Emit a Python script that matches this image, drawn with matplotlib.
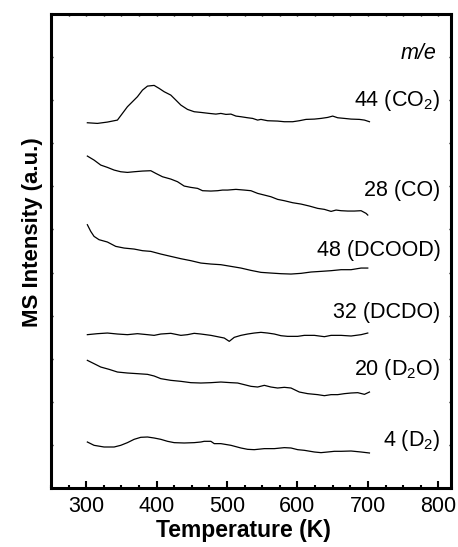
import matplotlib
matplotlib.use("Agg")
import matplotlib.pyplot as plt
from matplotlib.ticker import MultipleLocator, NullFormatter

plt.rcParams['font.family'] = ['Liberation Sans', 'DejaVu Sans']
plt.rcParams['mathtext.default'] = 'regular'

t_co2 = [301.6, 315.9, 330.1, 344.3, 351.4, 358.5, 365.6, 372.7, 379.9, 387.0,
         396.4, 403.6, 410.7, 420.1, 427.3, 434.4, 443.8, 453.3, 462.8, 474.7,
         484.1, 491.2, 498.4, 505.5, 512.6, 519.7, 529.2, 536.3, 543.4, 548.1,
         557.6, 571.8, 581.3, 593.2, 602.6, 612.1, 624.0, 633.4, 642.9, 650.0,
         657.1, 666.6, 676.1, 688.0, 695.1, 702.2]
i_co2 = [8.476, 8.461, 8.492, 8.538, 8.693, 8.848, 8.964, 9.080, 9.234, 9.327,
         9.343, 9.273, 9.196, 9.118, 9.002, 8.886, 8.786, 8.732, 8.716, 8.693,
         8.677, 8.693, 8.670, 8.677, 8.631, 8.616, 8.592, 8.577, 8.538, 8.554,
         8.523, 8.515, 8.500, 8.500, 8.523, 8.554, 8.561, 8.577, 8.600, 8.631,
         8.592, 8.577, 8.561, 8.554, 8.538, 8.500]

t_co = [301.6, 311.1, 320.6, 330.1, 339.6, 349.0, 358.5, 368.0, 379.9, 391.7,
        398.8, 408.3, 420.1, 429.6, 439.1, 448.6, 458.1, 465.2, 477.0, 486.5,
        493.6, 500.7, 512.6, 524.4, 533.9, 543.4, 552.9, 562.3, 571.8, 581.3,
        593.2, 605.0, 616.9, 628.7, 638.2, 647.7, 654.8, 661.9, 671.4, 680.8,
        690.3, 697.4, 699.8]
i_co = [7.703, 7.610, 7.494, 7.440, 7.378, 7.339, 7.324, 7.339, 7.355, 7.363,
        7.301, 7.223, 7.169, 7.108, 7.007, 6.976, 6.953, 6.899, 6.891, 6.899,
        6.914, 6.914, 6.930, 6.914, 6.899, 6.837, 6.798, 6.759, 6.698, 6.667,
        6.620, 6.589, 6.543, 6.489, 6.466, 6.419, 6.450, 6.435, 6.427, 6.427,
        6.435, 6.373, 6.334]

t_dcood = [301.6, 306.4, 311.1, 318.2, 330.1, 341.9, 353.8, 368.0, 379.9,
           391.7, 405.9, 420.1, 434.4, 448.6, 462.8, 477.0, 491.2, 505.5,
           519.7, 533.9, 548.1, 562.3, 576.6, 590.8, 605.0, 619.2, 633.4,
           647.7, 661.9, 676.1, 690.3, 699.8]
i_dcood = [6.110, 5.955, 5.839, 5.762, 5.708, 5.607, 5.568, 5.545, 5.507,
           5.491, 5.429, 5.375, 5.321, 5.275, 5.220, 5.197, 5.182, 5.143,
           5.104, 5.050, 5.004, 4.988, 4.973, 4.965, 4.981, 5.012, 5.027,
           5.043, 5.066, 5.066, 5.104, 5.104]

t_dcdo = [301.6, 315.9, 330.1, 344.3, 358.5, 372.7, 387.0, 396.4, 405.9,
          420.1, 434.4, 443.8, 453.3, 462.8, 477.0, 486.5, 496.0, 503.1,
          510.2, 519.7, 529.2, 538.6, 548.1, 557.6, 567.1, 576.6, 586.0,
          600.3, 609.7, 624.0, 638.2, 647.7, 661.9, 676.1, 690.3, 699.8]
i_dcdo = [3.558, 3.581, 3.596, 3.573, 3.558, 3.581, 3.558, 3.542, 3.573,
          3.589, 3.542, 3.558, 3.589, 3.573, 3.542, 3.511, 3.480, 3.403,
          3.496, 3.542, 3.573, 3.596, 3.612, 3.596, 3.573, 3.534, 3.519,
          3.519, 3.542, 3.542, 3.511, 3.542, 3.542, 3.527, 3.558, 3.596]

t_d2o = [301.6, 311.1, 320.6, 332.5, 344.3, 358.5, 372.7, 387.0, 396.4,
         405.9, 420.1, 434.4, 448.6, 462.8, 477.0, 491.2, 505.5, 515.0,
         524.4, 533.9, 543.4, 552.9, 562.3, 571.8, 581.3, 590.8, 602.6,
         614.5, 628.7, 638.2, 647.7, 657.1, 666.6, 676.1, 685.6, 695.1, 702.2]
i_d2o = [2.962, 2.885, 2.807, 2.753, 2.691, 2.668, 2.653, 2.637, 2.599,
         2.537, 2.498, 2.475, 2.444, 2.436, 2.444, 2.459, 2.444, 2.436,
         2.398, 2.359, 2.343, 2.382, 2.343, 2.320, 2.336, 2.320, 2.227,
         2.189, 2.166, 2.142, 2.166, 2.166, 2.189, 2.204, 2.212, 2.173, 2.227]

t_d2 = [301.6, 311.1, 325.3, 339.6, 349.0, 358.5, 368.0, 377.5, 387.0, 396.4,
        405.9, 415.4, 424.9, 439.1, 453.3, 462.8, 467.5, 477.0, 481.8, 491.2,
        505.5, 519.7, 529.2, 538.6, 552.9, 567.1, 581.3, 590.8, 600.3, 609.7,
        624.0, 633.4, 642.9, 652.4, 661.9, 676.1, 690.3, 702.2]
i_d2 = [1.067, 0.990, 0.951, 0.951, 0.990, 1.052, 1.129, 1.176, 1.183, 1.160,
        1.129, 1.083, 1.052, 1.044, 1.052, 1.067, 1.083, 1.083, 1.029, 1.029,
        0.990, 0.928, 0.897, 0.889, 0.913, 0.913, 0.936, 0.928, 0.889, 0.874,
        0.835, 0.820, 0.835, 0.851, 0.851, 0.858, 0.835, 0.812]

labels = ['44 (CO$_2$)', '28 (CO)', '48 (DCOOD)', '32 (DCDO)',
          '20 (D$_2$O)', '4 (D$_2$)']
label_y = [9.0, 6.91, 5.52, 4.08, 2.74, 1.11]

fig = plt.figure(figsize=(4.58, 5.47), dpi=100)
ax = fig.add_axes([0.1114, 0.1079, 0.8733, 0.8665])

for t, i in [(t_co2, i_co2), (t_co, i_co), (t_dcood, i_dcood),
             (t_dcdo, i_dcdo), (t_d2o, i_d2o), (t_d2, i_d2)]:
    ax.plot(t, i, color='black', lw=0.9)

for lab, y in zip(labels, label_y):
    ax.text(803, y, lab, ha='right', va='center', fontsize=15.5)
ax.text(797, 10.09, 'm/e', ha='right', va='center', fontsize=15.5,
        style='italic')

ax.set_xlim(250, 818)
ax.set_ylim(0, 11)
ax.xaxis.set_major_locator(MultipleLocator(100))
ax.xaxis.set_minor_locator(MultipleLocator(25))
ax.yaxis.set_major_locator(MultipleLocator(1))
ax.yaxis.set_major_formatter(NullFormatter())
ax.tick_params(axis='x', which='major', direction='in', length=5, width=1.5,
               labelsize=15.5, pad=6)
ax.tick_params(axis='x', which='minor', direction='in', length=2.5, width=1.5)
ax.tick_params(axis='y', which='major', direction='in', length=1.5, width=1,
               right=True)
ax.tick_params(axis='x', which='both', top=False)

top = ax.secondary_xaxis('top')
top.xaxis.set_major_locator(MultipleLocator(25))
top.tick_params(direction='in', length=1.5, width=1, labeltop=False)
top.spines['top'].set_visible(False)

for s in ax.spines.values():
    s.set_linewidth(2.2)

ax.set_xlabel('Temperature (K)', fontsize=16.5, fontweight='bold')
ax.set_ylabel('MS Intensity (a.u.)', fontsize=16, fontweight='bold')
ax.xaxis.set_label_coords(0.481, -0.066)
ax.yaxis.set_label_coords(-0.02, 0.54)

fig.savefig('out.png', dpi=100)
